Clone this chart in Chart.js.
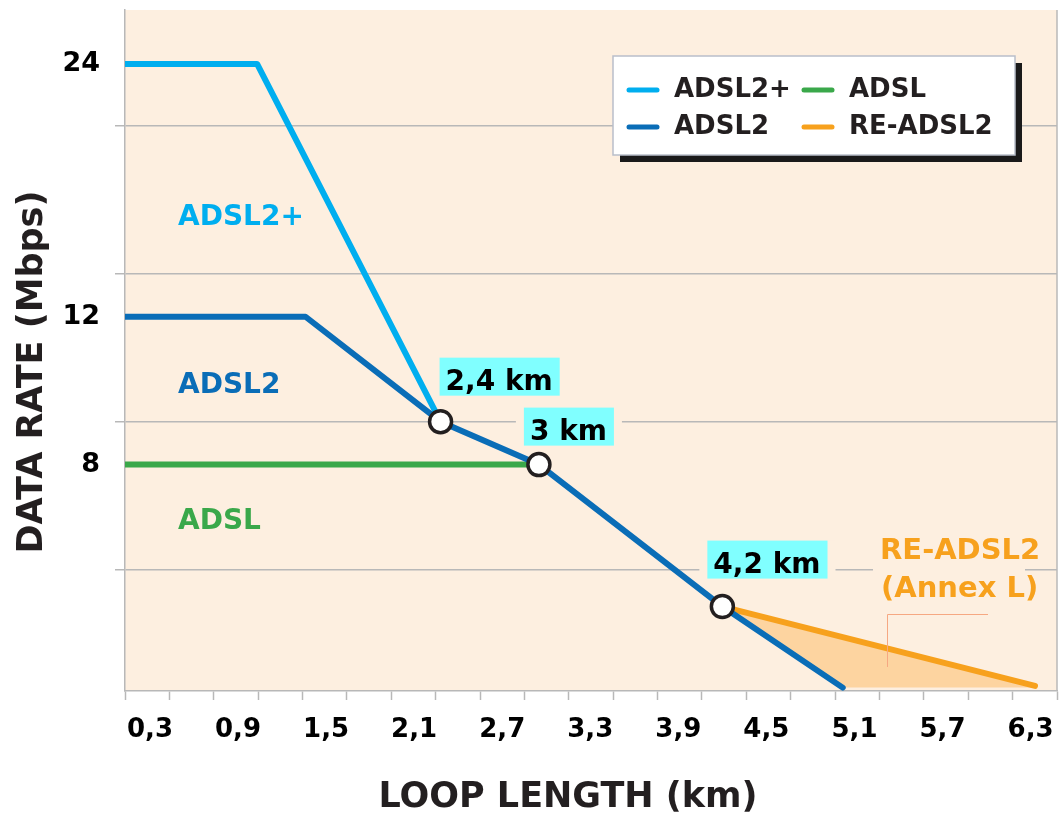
<!DOCTYPE html>
<html>
<head>
<meta charset="utf-8">
<script src="https://cdn.jsdelivr.net/npm/chart.js@4/dist/chart.umd.min.js"></script>
<style>
  html, body { margin: 0; padding: 0; background: #fff; }
  #wrap { width: 1059px; height: 813px; }
</style>
</head>
<body>
<div id="wrap"><canvas id="canvas"></canvas></div>
<script>
// loop length (km) against data rate (Mbps)
var adsl2plusKm = [0.13, 1.03, 2.28];
var adsl2plusRate = [24, 24, 9];
var adsl2Km = [0.13, 1.36, 2.28, 2.95, 4.2, 5.02];
var adsl2Rate = [12, 12, 9, 8, 5.42, 4.34];
var adslKm = [0.13, 2.95];
var adslRate = [8, 8];
var reAdsl2Km = [4.2, 6.33];
var reAdsl2Rate = [5.42, 4.36];

var xTickLabels = [0.3, 0.9, 1.5, 2.1, 2.7, 3.3, 3.9, 4.5, 5.1, 5.7, 6.3];
var yTickLabels = [8, 12, 24];
var yGridLines = [6, 9, 13.5, 20.25];

// the marked points on the ADSL2 curve
var knees = [2.28, 2.95, 4.2];
var kneeLabels = ['2,4 km', '3 km', '4,2 km'];

var xMin = 0.13, xMax = 6.48, yMin = 4.3, yMax = 27.83;
var peach = '#fdefe0';
var gridGray = '#b8b8b8';
var ink = '#231f20';
var font = 'DejaVu Sans';

function near(list, v) {
    return list.some(function (t) { return Math.abs(t - v) < 1e-6; });
}
function xy(xs, ys) {
    return xs.map(function (x, i) { return {x: x, y: ys[i]}; });
}
function noPad(scale) {
    scale.paddingTop = 0;
    scale.paddingBottom = 0;
    scale.paddingLeft = 0;
    scale.paddingRight = 0;
}

// lower edge of the RE-ADSL2 gain area: ADSL2 from the split point, then the floor
var k0 = adsl2Km.indexOf(reAdsl2Km[0]);
var fillEdge = xy(adsl2Km.slice(k0), adsl2Rate.slice(k0));
fillEdge.push({x: reAdsl2Km[reAdsl2Km.length - 1], y: adsl2Rate[adsl2Rate.length - 1]});

var lineStyle = {borderWidth: 6, pointRadius: 0, tension: 0, fill: false,
    borderCapStyle: 'round', borderJoinStyle: 'round'};

var backdrop = {
    id: 'backdrop',
    beforeDraw: function (chart) {
        var ctx = chart.ctx, a = chart.chartArea;
        ctx.save();
        ctx.fillStyle = '#fff';
        ctx.fillRect(0, 0, chart.width, chart.height);
        ctx.fillStyle = peach;
        ctx.fillRect(a.left, a.top, a.right - a.left, a.bottom - a.top);
        ctx.restore();
    },
    beforeDatasetsDraw: function (chart) {
        var ctx = chart.ctx, a = chart.chartArea;
        ctx.save();
        ctx.strokeStyle = gridGray;
        ctx.lineWidth = 1.5;
        ctx.beginPath();
        ctx.moveTo(a.right, a.top);
        ctx.lineTo(a.right, a.bottom);
        ctx.stroke();
        ctx.restore();
    }
};

var notes = {
    id: 'notes',
    afterDatasetsDraw: function (chart) {
        var ctx = chart.ctx, sx = chart.scales.x, sy = chart.scales.y;
        var ds = chart.data.datasets;
        ctx.save();

        // axis titles
        ctx.fillStyle = ink;
        ctx.font = 'bold 35px "' + font + '"';
        ctx.textAlign = 'center';
        ctx.textBaseline = 'alphabetic';
        ctx.fillText('LOOP LENGTH (km)', 568, 807);
        ctx.save();
        ctx.translate(42, 372);
        ctx.rotate(-Math.PI / 2);
        ctx.fillText('DATA RATE (Mbps)', 0, 0);
        ctx.restore();

        // names inside the plot
        ctx.textAlign = 'left';
        ctx.font = 'bold 28px "' + font + '"';
        ctx.fillStyle = ds[0].borderColor; ctx.fillText('ADSL2+', 178, 225);
        ctx.fillStyle = ds[1].borderColor; ctx.fillText('ADSL2', 178, 393);
        ctx.fillStyle = ds[2].borderColor; ctx.fillText('ADSL', 178, 529);

        // distance tags next to the marked points
        var tagOffset = [[-1, -64], [-15, -57], [-15, -66]];
        knees.forEach(function (k, i) {
            var j = adsl2Km.indexOf(k);
            var px = sx.getPixelForValue(k), py = sy.getPixelForValue(adsl2Rate[j]);
            var w = ctx.measureText(kneeLabels[i]).width + 13, h = 38;
            var bx = px + tagOffset[i][0], by = py + tagOffset[i][1];
            ctx.fillStyle = peach;
            ctx.fillRect(bx - 8, by, w + 16, h);
            ctx.fillStyle = '#80ffff';
            ctx.fillRect(bx, by, w, h);
            ctx.fillStyle = '#000';
            ctx.fillText(kneeLabels[i], bx + 6, by + 32);
        });

        // RE-ADSL2 callout
        ctx.fillStyle = peach;
        ctx.fillRect(873, 532, 152, 74);
        ctx.fillStyle = ds[3].borderColor;
        ctx.font = 'bold 29px "' + font + '"';
        ctx.fillText('RE-ADSL2', 880, 559);
        ctx.fillText('(Annex L)', 881, 597);
        ctx.strokeStyle = '#f6a882';
        ctx.lineWidth = 1;
        ctx.beginPath();
        ctx.moveTo(988, 614.5);
        ctx.lineTo(887.5, 614.5);
        ctx.lineTo(887.5, 667);
        ctx.stroke();

        // legend box with drop shadow
        var L = 613, T = 56, W = 402, H = 99;
        ctx.fillStyle = '#1a1a1a';
        ctx.fillRect(L + 7, T + 7, W, H);
        ctx.fillStyle = '#fff';
        ctx.fillRect(L, T, W, H);
        ctx.strokeStyle = '#b9bfca';
        ctx.lineWidth = 1.5;
        ctx.strokeRect(L, T, W, H);
        var cols = [627, 802], rows = [90, 127];
        ctx.font = 'bold 26px "' + font + '"';
        ctx.lineCap = 'round';
        ds.filter(function (d) { return !d.legendSkip; }).forEach(function (d, n) {
            var cx = cols[Math.floor(n / 2)], cy = rows[n % 2];
            ctx.strokeStyle = d.borderColor;
            ctx.lineWidth = 5;
            ctx.beginPath();
            ctx.moveTo(cx + 2, cy);
            ctx.lineTo(cx + 30, cy);
            ctx.stroke();
            ctx.fillStyle = ink;
            ctx.fillText(d.label, cx + 47, cy + 7);
        });
        ctx.restore();
    }
};

var chart = new Chart(document.getElementById('canvas').getContext('2d'), {
    type: 'line',
    data: {
        datasets: [
            Object.assign({label: 'ADSL2+', data: xy(adsl2plusKm, adsl2plusRate),
                borderColor: '#00aeef', order: 1}, lineStyle),
            Object.assign({}, lineStyle, {label: 'ADSL2', data: xy(adsl2Km, adsl2Rate),
                borderColor: '#0a6db7', order: 0,
                pointRadius: adsl2Km.map(function (k) { return near(knees, k) ? 11 : 0; }),
                pointBackgroundColor: '#fff', pointBorderColor: ink, pointBorderWidth: 3.5}),
            Object.assign({label: 'ADSL', data: xy(adslKm, adslRate),
                borderColor: '#3aa84a', order: 2}, lineStyle),
            Object.assign({}, lineStyle, {label: 'RE-ADSL2', data: xy(reAdsl2Km, reAdsl2Rate),
                borderColor: '#f7a11d', order: 3, fill: 4, backgroundColor: '#fdd4a0'}),
            {label: '', data: fillEdge, borderWidth: 0, pointRadius: 0, fill: false,
                order: 4, legendSkip: true}
        ]
    },
    options: {
        responsive: true,
        maintainAspectRatio: false,
        animation: false,
        events: [],
        layout: {padding: {top: 10, right: 2, left: 0, bottom: 0}},
        plugins: {legend: {display: false}, tooltip: {enabled: false}},
        scales: {
            x: {
                type: 'linear', min: xMin, max: xMax,
                afterBuildTicks: function (scale) {
                    var t = [];
                    for (var i = 0; i <= 21; i++) t.push(xMin + i * (xMax - xMin) / 21);
                    scale.ticks = t.concat(xTickLabels).sort(function (a, b) { return a - b; })
                        .map(function (v) { return {value: v}; });
                },
                afterFit: function (scale) { scale.height = 122; noPad(scale); },
                grid: {
                    drawOnChartArea: false, tickLength: 9, tickWidth: 1.5,
                    tickColor: function (c) {
                        return c.tick && near(xTickLabels, c.tick.value) ? 'rgba(0,0,0,0)' : gridGray;
                    }
                },
                border: {color: gridGray, width: 1.5},
                ticks: {
                    autoSkip: false, maxRotation: 0, minRotation: 0, padding: 15,
                    color: '#000', font: {family: font, size: 26, weight: 'bold'},
                    callback: function (v) {
                        return near(xTickLabels, v) ? v.toFixed(1).replace('.', ',') : '';
                    }
                }
            },
            y: {
                type: 'logarithmic', min: yMin, max: yMax,
                afterBuildTicks: function (scale) {
                    scale.ticks = yGridLines.concat(yTickLabels).sort(function (a, b) { return a - b; })
                        .map(function (v) { return {value: v}; });
                },
                afterFit: function (scale) { scale.width = 125; noPad(scale); },
                grid: {
                    lineWidth: 1.5, tickLength: 10,
                    color: function (c) {
                        return c.tick && near(yGridLines, c.tick.value) ? gridGray : 'rgba(0,0,0,0)';
                    }
                },
                border: {color: gridGray, width: 1.5},
                ticks: {
                    autoSkip: false, padding: 15,
                    color: '#000', font: {family: font, size: 27, weight: 'bold'},
                    callback: function (v) { return near(yTickLabels, v) ? String(v) : ''; }
                }
            }
        }
    },
    plugins: [backdrop, notes]
});
</script>
</body>
</html>
